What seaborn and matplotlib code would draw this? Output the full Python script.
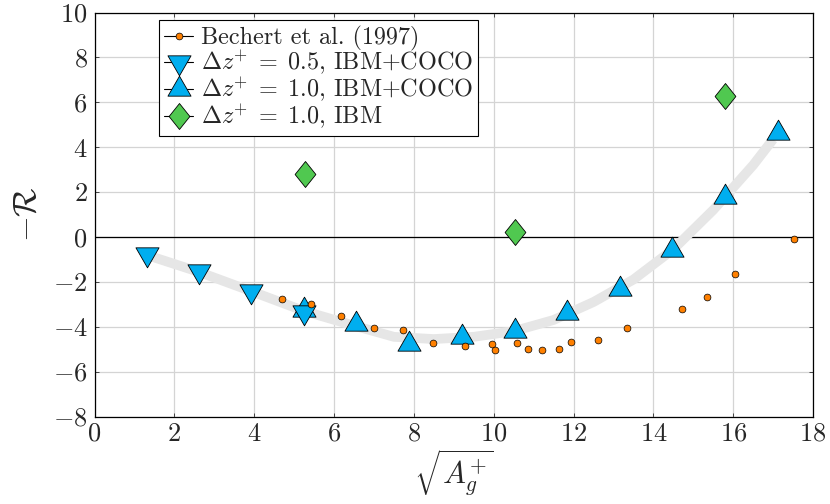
import numpy as np
import pandas as pd
import matplotlib
matplotlib.use("Agg")
import matplotlib.pyplot as plt
from matplotlib.path import Path
from matplotlib.lines import Line2D
import seaborn as sns

# ---- data ----
bechert_x = [4.69, 5.42, 6.18, 7.00, 7.74, 8.49, 9.28, 9.95, 10.03, 10.58,
             10.85, 11.22, 11.63, 11.93, 12.61, 13.35, 14.71, 15.34, 16.04, 17.53]
bechert_y = [-2.75, -2.97, -3.50, -4.04, -4.16, -4.72, -4.88, -4.76, -5.04, -4.72,
             -4.99, -5.04, -5.01, -4.66, -4.61, -4.07, -3.23, -2.67, -1.67, -0.10]

dz05_x = [1.31, 2.62, 3.93, 5.24]
dz05_y = [-0.78, -1.52, -2.43, -3.33]

dz10_x = [5.24, 6.56, 7.89, 9.21, 10.53, 11.84, 13.16, 14.48, 15.80, 17.12]
dz10_y = [-3.25, -3.90, -4.78, -4.48, -4.21, -3.40, -2.33, -0.60, 1.80, 4.65]

ibm_x = [5.27, 10.54, 15.80]
ibm_y = [2.80, 0.22, 6.30]

trend_x = [1.3, 2.6, 3.9, 5.25, 6.5, 7.5, 8.5, 9.5, 10.5, 11.5, 12.5, 13.5, 14.5, 15.5, 16.5, 17.0]
trend_y = [-0.8, -1.55, -2.4, -3.3, -3.95, -4.45, -4.55, -4.45, -4.2, -3.7, -2.9, -1.9, -0.55, 1.2, 3.2, 4.35]

labels = ["Bechert et al. (1997)",
          r"$\Delta z^{+} \;=\; 0.5$, IBM+COCO",
          r"$\Delta z^{+} \;=\; 1.0$, IBM+COCO",
          r"$\Delta z^{+} \;=\; 1.0$, IBM"]

c_orange = "#ff8000"
c_blue = "#00aeef"
c_green = "#50c850"

sns.set_style("ticks")
plt.rcParams["font.family"] = ["cmr10", "DejaVu Serif"]
plt.rcParams["mathtext.fontset"] = "cm"
plt.rcParams["axes.formatter.use_mathtext"] = True
plt.rcParams["axes.unicode_minus"] = True

tri_up = Path([(0, 1), (-0.866, -0.5), (0.866, -0.5), (0, 1)],
              [Path.MOVETO, Path.LINETO, Path.LINETO, Path.CLOSEPOLY])
tri_dn = Path([(0, -1), (-0.866, 0.5), (0.866, 0.5), (0, -1)],
              [Path.MOVETO, Path.LINETO, Path.LINETO, Path.CLOSEPOLY])
diam = Path([(0, 1), (0.8, 0), (0, -1), (-0.8, 0), (0, 1)],
            [Path.MOVETO, Path.LINETO, Path.LINETO, Path.LINETO, Path.CLOSEPOLY])

fig = plt.figure(figsize=(8.3, 5.04), dpi=100)
ax = fig.add_axes([94.5 / 830, 1 - 416.5 / 504, (813 - 94.5) / 830, (416.5 - 12.5) / 504])

ax.grid(True, color="#d4d4d4", lw=0.9, zorder=0)
ax.set_axisbelow(True)
ax.axhline(0, color="black", lw=0.9, zorder=1)

sns.lineplot(x=trend_x, y=trend_y, ax=ax, color="#e6e6e6", lw=7,
             solid_capstyle="butt", zorder=2, sort=False)

sz_tri = 19.2
sns.scatterplot(x=dz10_x, y=dz10_y, ax=ax, marker=tri_up, s=sz_tri ** 2,
                color=c_blue, edgecolor="black", linewidth=0.6, zorder=3)
sns.scatterplot(x=dz05_x, y=dz05_y, ax=ax, marker=tri_dn, s=sz_tri ** 2,
                color=c_blue, edgecolor="black", linewidth=0.6, zorder=4)
sns.scatterplot(x=bechert_x, y=bechert_y, ax=ax, marker="o", s=24,
                color=c_orange, edgecolor="black", linewidth=0.5, zorder=5)
sns.scatterplot(x=ibm_x, y=ibm_y, ax=ax, marker=diam, s=18.7 ** 2,
                color=c_green, edgecolor="black", linewidth=0.6, zorder=6)

ax.set_xlim(0, 18)
ax.set_ylim(-8, 10)
ax.set_xticks(np.arange(0, 19, 2))
ax.set_yticks(np.arange(-8, 11, 2))
ax.tick_params(direction="in", length=3, width=0.7, color="#444444",
               top=True, right=True, labelsize=19, pad=5)
ax.tick_params(axis="x", pad=4)
for sp in ax.spines.values():
    sp.set_linewidth(0.9)
    sp.set_color("black")

ax.set_xlabel(r"$\sqrt{A_g^{+}}$", fontsize=22, labelpad=1)
ax.set_ylabel(r"$-\mathcal{R}$", fontsize=24, labelpad=8)

handles = [
    Line2D([], [], color="black", lw=0.8, marker="o", markersize=4.9,
           mfc=c_orange, mec="black", mew=0.5),
    Line2D([], [], color="black", lw=0.8, marker=tri_dn, markersize=sz_tri,
           mfc=c_blue, mec="black", mew=0.6),
    Line2D([], [], color="black", lw=0.8, marker=tri_up, markersize=sz_tri,
           mfc=c_blue, mec="black", mew=0.6),
    Line2D([], [], color="black", lw=0.8, marker=diam, markersize=18.7,
           mfc=c_green, mec="black", mew=0.6),
]
leg = ax.legend(handles, labels, loc="upper left", bbox_to_anchor=(0.0898, 0.981),
                fontsize=17.4, frameon=True, fancybox=False, framealpha=1,
                edgecolor="black", handlelength=1.2, handletextpad=0.3,
                labelspacing=-0.07, borderpad=0.22, borderaxespad=0)
leg.get_frame().set_linewidth(0.8)

fig.savefig("out.png", dpi=100)
